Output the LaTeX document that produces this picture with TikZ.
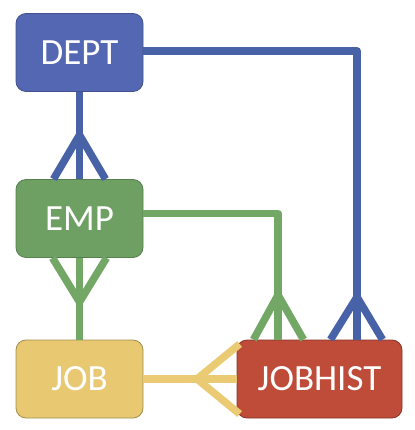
\documentclass[tikz,border=0pt]{standalone}
\usepackage{fontspec}
\setmainfont{Carlito}
\usetikzlibrary{calc}
\definecolor{deptc}{HTML}{5467B2}
\definecolor{empc}{HTML}{6E9F63}
\definecolor{jobc}{HTML}{E8C971}
\definecolor{histc}{HTML}{BF4B39}
\definecolor{blueln}{HTML}{4762A6}
\definecolor{greenln}{HTML}{72A766}
\definecolor{yellowln}{HTML}{EACB74}
\tikzset{
  ent/.style={rounded corners=10pt, minimum height=78pt, text=white,
    font=\fontsize{37}{40}\selectfont, inner sep=0pt, line width=0.8pt},
  conn/.style={line width=7.5pt, line join=round},
}
\begin{document}
\begin{tikzpicture}[x=1pt,y=-1pt]
\useasboundingbox (0,0) rectangle (414,430);
\node[ent, fill=deptc, draw=deptc!80!black, minimum width=127pt] (dept) at (79.5,52.5) {DEPT};
\node[ent, fill=empc, draw=empc!80!black, minimum width=127pt] (emp) at (79.5,218.5) {EMP};
\node[ent, fill=jobc, draw=jobc!70!black, minimum width=127pt] (job) at (79.5,379) {JOB};
\node[ent, fill=histc, draw=histc!70!black, minimum width=165pt] (hist) at (319.5,379) {JOBHIST};
% DEPT - EMP
\coordinate (f1) at (79.5,135);
\draw[conn, blueln] (dept.south) -- (f1);
\draw[conn, blueln] ($(emp.north)+(-26,0)$) -- (f1) -- ($(emp.north)+(26,0)$);
\draw[conn, blueln] (f1) -- (emp.north);
% DEPT - JOBHIST
\coordinate (s1) at ($(dept.east)+(0,-1.5)$);
\coordinate (c1) at (357,51);
\coordinate (f2) at (357,297);
\draw[conn, blueln] (s1) -- (c1) -- (f2);
\draw[conn, blueln] ($(hist.north)+(11,0)$) -- (f2) -- ($(hist.north)+(63,0)$);
\draw[conn, blueln] (f2) -- ($(hist.north)+(37.5,0)$);
% EMP - JOBHIST
\coordinate (s2) at ($(emp.east)+(0,-5)$);
\coordinate (c2) at (278,213.5);
\coordinate (f3) at (278,295);
\draw[conn, greenln] (s2) -- (c2) -- (f3);
\draw[conn, greenln] ($(hist.north)+(-66,0)$) -- (f3) -- ($(hist.north)+(-16,0)$);
\draw[conn, greenln] (f3) -- ($(hist.north)+(-41.5,0)$);
% EMP - JOB
\coordinate (f4) at (79.5,302);
\draw[conn, greenln] ($(emp.south)+(-27,0)$) -- (f4) -- ($(emp.south)+(27,0)$);
\draw[conn, greenln] (emp.south) -- (f4) -- (job.north);
% JOB - JOBHIST
\coordinate (f5) at (197,379);
\draw[conn, yellowln] (job.east) -- (f5) -- (hist.west);
\draw[conn, yellowln] ($(hist.west)+(3,-35)$) -- (f5) -- ($(hist.west)+(3,35)$);
\end{tikzpicture}
\end{document}
